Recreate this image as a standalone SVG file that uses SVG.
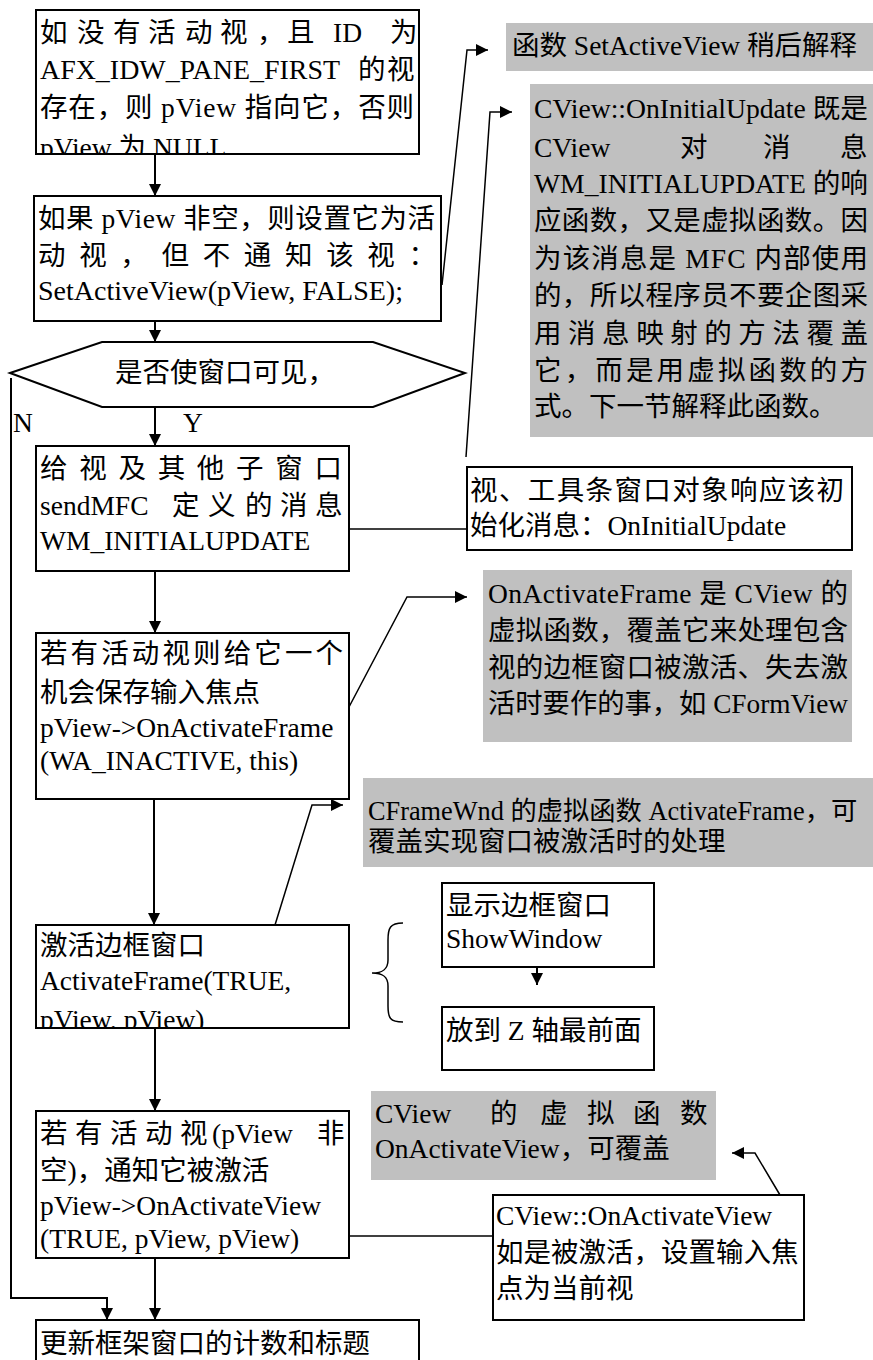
<svg xmlns="http://www.w3.org/2000/svg" width="873" height="1360" viewBox="0 0 873 1360">
<style>
.t{font-family:"Liberation Serif","Noto Sans CJK SC",serif;font-size:27.5px;fill:#000}
.box{fill:#fff;stroke:#000;stroke-width:2}
.gray{fill:#c0c0c0;stroke:none}
.c{fill:none;stroke:#000;stroke-width:2}
.ct{fill:none;stroke:#000;stroke-width:1.5}
</style>
<defs>
<marker id="arr" markerUnits="userSpaceOnUse" markerWidth="12" markerHeight="12" refX="12" refY="6" orient="auto">
<path d="M0,0 L12,6 L0,12 z" fill="#000"/>
</marker>
<clipPath id="clip1"><rect x="36" y="10" width="383" height="144"/></clipPath>
<clipPath id="clip5"><rect x="36" y="925" width="313" height="103"/></clipPath>
</defs>
<rect width="873" height="1360" fill="#fff"/>

<g id="connectors">
<line class="c" x1="155" y1="154" x2="155" y2="196" marker-end="url(#arr)"/>
<line class="c" x1="155" y1="321" x2="155" y2="342" marker-end="url(#arr)"/>
<line class="c" x1="155" y1="407" x2="155" y2="446" marker-end="url(#arr)"/>
<line class="c" x1="155" y1="571" x2="155" y2="633" marker-end="url(#arr)"/>
<line class="c" x1="154" y1="799" x2="154" y2="925" marker-end="url(#arr)"/>
<line class="c" x1="155" y1="1028" x2="155" y2="1111" marker-end="url(#arr)"/>
<line class="c" x1="155" y1="1258" x2="155" y2="1320" marker-end="url(#arr)"/>
<polyline class="c" points="11,378 11,1298 107,1298 107,1320" marker-end="url(#arr)"/>
<polyline class="ct" points="442,285 467,50 488,50" marker-end="url(#arr)"/>
<polyline class="ct" points="466,457 490,112 512,112" marker-end="url(#arr)"/>
<line class="ct" x1="349" y1="529" x2="467" y2="529"/>
<polyline class="ct" points="349,707 407,597 467,597" marker-end="url(#arr)"/>
<polyline class="ct" points="275,925 312,805 343,805" marker-end="url(#arr)"/>
<path class="ct" d="M403,923 C390,923 388,928 388,940 L388,960 C388,970 382,973 372,973 C382,973 388,976 388,986 L388,1006 C388,1018 390,1022 403,1022"/>
<line class="c" x1="537" y1="967" x2="537" y2="985" marker-end="url(#arr)"/>
<line class="ct" x1="349" y1="1236" x2="493" y2="1236"/>
<polyline class="ct" points="780,1195 755,1153 732,1153" marker-end="url(#arr)"/>
</g>

<g id="n1">
<rect class="box" x="36" y="10" width="383" height="144"/>
<g clip-path="url(#clip1)">
<text class="t" y="42"><tspan x="40 77 113 148 185 220 257 287">如没有活动视，且</tspan><tspan x="333">ID</tspan><tspan x="390">为</tspan></text>
<text class="t" y="79"><tspan x="40" textLength="300" lengthAdjust="spacingAndGlyphs">AFX_IDW_PANE_FIRST</tspan><tspan x="358">的</tspan><tspan x="387">视</tspan></text>
<text class="t" x="40" y="117" textLength="374" lengthAdjust="spacing">存在，则 pView 指向它，否则</text>
<text class="t" x="40" y="157">pView 为 NULL</text>
</g>
</g>

<g id="n2">
<rect class="box" x="34" y="196" width="407" height="125"/>
<text class="t" x="38" y="228" textLength="397" lengthAdjust="spacing">如果 pView 非空，则设置它为活</text>
<text class="t" x="38" y="265" textLength="398" lengthAdjust="spacing">动视，但不通知该视：</text>
<text class="t" x="38" y="300" textLength="365" lengthAdjust="spacingAndGlyphs">SetActiveView(pView, FALSE);</text>
</g>

<g id="n3">
<polygon class="box" points="10,373 102,342 373,342 465,373 373,407 102,407"/>
<text class="t" x="115" y="382">是否使窗口可见，</text>
</g>

<g id="labels">
<text class="t" x="13" y="432">N</text>
<text class="t" x="183" y="432">Y</text>
</g>

<g id="n4">
<rect class="box" x="36" y="446" width="313" height="125"/>
<text class="t" x="40" y="478" textLength="302" lengthAdjust="spacing">给视及其他子窗口</text>
<text class="t" y="515"><tspan x="40">sendMFC</tspan><tspan x="172 208 245 280 315">定义的消息</tspan></text>
<text class="t" x="40" y="550">WM_INITIALUPDATE</text>
</g>

<g id="n5">
<rect class="box" x="36" y="633" width="313" height="166"/>
<text class="t" x="40" y="663" textLength="303" lengthAdjust="spacing">若有活动视则给它一个</text>
<text class="t" x="40" y="702">机会保存输入焦点</text>
<text class="t" x="40" y="737">pView-&gt;OnActivateFrame</text>
<text class="t" x="40" y="770">(WA_INACTIVE, this)</text>
</g>

<g id="n6">
<rect class="box" x="36" y="925" width="313" height="103"/>
<g clip-path="url(#clip5)">
<text class="t" x="40" y="955">激活边框窗口</text>
<text class="t" x="40" y="990">ActivateFrame(TRUE,</text>
<text class="t" x="40" y="1029">pView, pView)</text>
</g>
</g>

<g id="n7">
<rect class="box" x="36" y="1111" width="313" height="147"/>
<text class="t" y="1143"><tspan x="40 75 110 145 180">若有活动视</tspan><tspan x="212">(pView</tspan><tspan x="317">非</tspan></text>
<text class="t" x="40" y="1180">空)，通知它被激活</text>
<text class="t" x="40" y="1215">pView-&gt;OnActivateView</text>
<text class="t" x="40" y="1248">(TRUE, pView, pView)</text>
</g>

<g id="n8">
<rect class="box" x="36" y="1320" width="383" height="60"/>
<text class="t" x="40" y="1353">更新框架窗口的计数和标题</text>
</g>

<g id="g1">
<rect class="gray" x="506" y="23" width="367" height="48"/>
<text class="t" x="512" y="55">函数 SetActiveView 稍后解释</text>
</g>

<g id="g2">
<rect class="gray" x="530" y="84" width="343" height="353"/>
<text class="t" x="534" y="118" textLength="334" lengthAdjust="spacingAndGlyphs">CView::OnInitialUpdate 既是</text>
<text class="t" y="157"><tspan x="534">CView</tspan><tspan x="680">对</tspan><tspan x="763">消</tspan><tspan x="840">息</tspan></text>
<text class="t" x="534" y="193" textLength="334" lengthAdjust="spacingAndGlyphs">WM_INITIALUPDATE 的响</text>
<text class="t" x="534" y="230" textLength="334" lengthAdjust="spacing">应函数，又是虚拟函数。因</text>
<text class="t" x="534" y="268" textLength="334" lengthAdjust="spacing">为该消息是 MFC 内部使用</text>
<text class="t" x="534" y="305" textLength="334" lengthAdjust="spacing">的，所以程序员不要企图采</text>
<text class="t" x="534" y="343" textLength="334" lengthAdjust="spacing">用消息映射的方法覆盖</text>
<text class="t" x="534" y="380" textLength="334" lengthAdjust="spacing">它，而是用虚拟函数的方</text>
<text class="t" x="534" y="416">式。下一节解释此函数。</text>
</g>

<g id="n9">
<rect class="box" x="467" y="467" width="385" height="83"/>
<text class="t" x="470" y="500" textLength="374" lengthAdjust="spacing">视、工具条窗口对象响应该初</text>
<text class="t" x="470" y="535">始化消息：OnInitialUpdate</text>
</g>

<g id="g3">
<rect class="gray" x="483" y="570" width="369" height="172"/>
<text class="t" x="488" y="603" textLength="360" lengthAdjust="spacing">OnActivateFrame 是 CView 的</text>
<text class="t" x="488" y="640" textLength="360" lengthAdjust="spacing">虚拟函数，覆盖它来处理包含</text>
<text class="t" x="488" y="677" textLength="360" lengthAdjust="spacing">视的边框窗口被激活、失去激</text>
<text class="t" x="488" y="713" textLength="360" lengthAdjust="spacingAndGlyphs">活时要作的事，如 CFormView</text>
</g>

<g id="g4">
<rect class="gray" x="363" y="778" width="510" height="89"/>
<text class="t" x="368" y="820" style="font-size:26.3px">CFrameWnd 的虚拟函数 ActivateFrame，可</text>
<text class="t" x="368" y="851">覆盖实现窗口被激活时的处理</text>
</g>

<g id="n10">
<rect class="box" x="442" y="883" width="212" height="84"/>
<text class="t" x="446" y="915">显示边框窗口</text>
<text class="t" x="446" y="948">ShowWindow</text>
</g>

<g id="n11">
<rect class="box" x="442" y="1007" width="212" height="63"/>
<text class="t" x="446" y="1040">放到 Z 轴最前面</text>
</g>

<g id="g5">
<rect class="gray" x="371" y="1091" width="345" height="89"/>
<text class="t" y="1123"><tspan x="375">CView</tspan><tspan x="490">的</tspan><tspan x="540">虚</tspan><tspan x="587">拟</tspan><tspan x="633">函</tspan><tspan x="680">数</tspan></text>
<text class="t" x="375" y="1158">OnActivateView，可覆盖</text>
</g>

<g id="n12">
<rect class="box" x="493" y="1195" width="311" height="125"/>
<text class="t" x="496" y="1225">CView::OnActivateView</text>
<text class="t" x="496" y="1262">如是被激活，设置输入焦</text>
<text class="t" x="496" y="1298">点为当前视</text>
</g>
</svg>
